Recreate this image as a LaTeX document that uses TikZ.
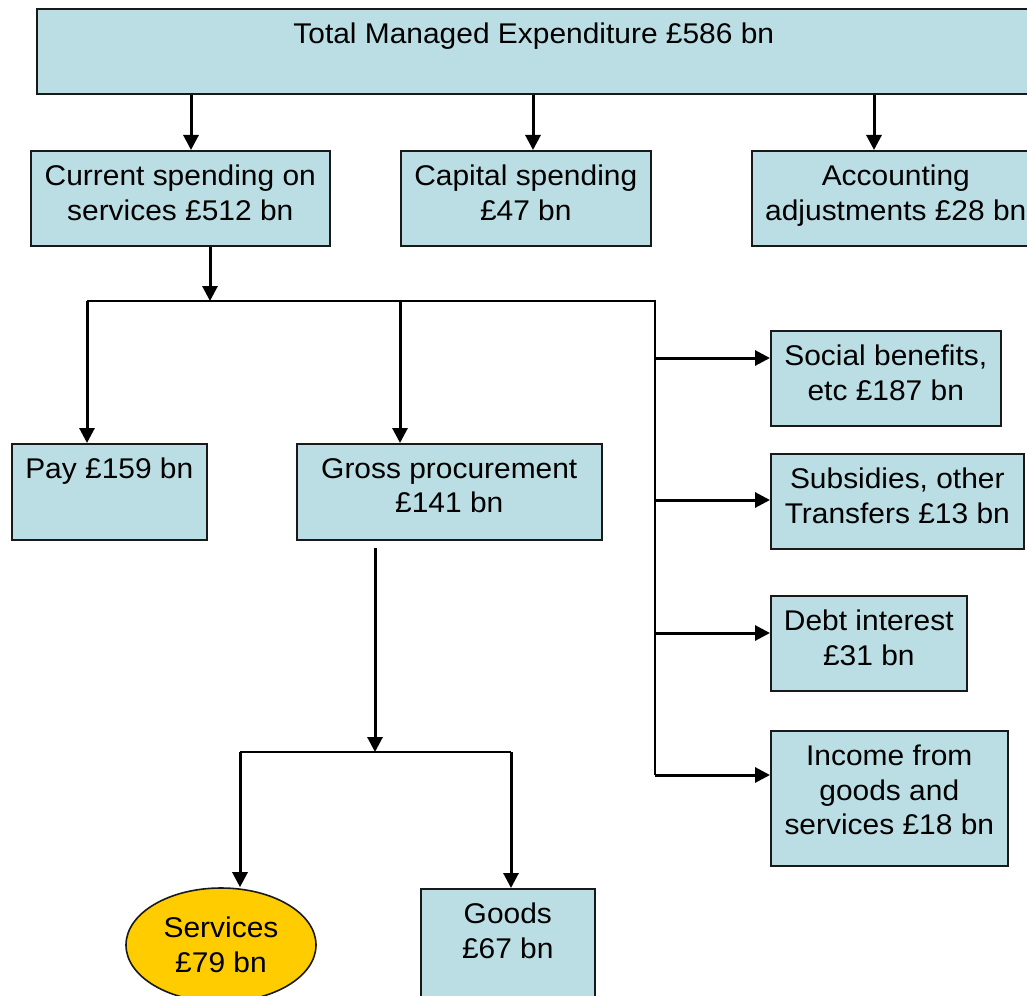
\documentclass[tikz,border=0pt]{standalone}
\usepackage{fontspec}
\setmainfont[FakeStretch=1.05]{Liberation Sans}
\usetikzlibrary{positioning, arrows.meta, shapes.geometric}
\definecolor{boxblue}{RGB}{186,222,228}
\definecolor{servgold}{RGB}{255,204,0}
\newcommand{\spendbox}[5]{\node[box] (#1) at (#2)
{\parbox[c][#4pt][t]{#3pt}{\centering\vspace*{14.5pt}#5}};}
\newcommand{\spendarrow}[3]{\draw [arrow, #3] (#1) -- (#2);}

\begin{document}
\begin{tikzpicture}[x=1pt, y=-1pt,
  box/.style={draw=black!90, line width=1.6pt, fill=boxblue, inner sep=0pt, anchor=north west, font=\fontsize{28.5}{34.5}\selectfont},
  arrow/.style={line width=3pt, -{Triangle[length=15pt, width=15pt]}},
  spine/.style={line width=1.5pt}]

\useasboundingbox (0,0) rectangle (1027,995);
\clip (0,0) rectangle (1027,995);

\spendbox{tme}{36,8}{994}{85}{Total Managed Expenditure £586 bn};
\spendbox{cur}{30,150}{299}{95}{Current spending on\\services £512 bn};
\spendbox{cap}{400,150}{250}{95}{Capital spending\\£47 bn};
\spendbox{acc}{751,150}{288}{95}{Accounting\\adjustments £28 bn};

\spendbox{pay}{11,443}{195}{96}{Pay £159 bn};
\spendbox{gross}{296,443}{305}{96}{Gross procurement\\£141 bn};

\spendbox{soc}{770,330}{230}{95}{Social benefits,\\etc £187 bn};
\spendbox{sub}{770,453}{253}{95}{Subsidies, other\\Transfers £13 bn};
\spendbox{debt}{770,595}{196}{95}{Debt interest\\£31 bn};
\spendbox{inc}{770,730}{237}{135}{Income from\\goods and\\services £18 bn};

\node[ellipse, draw=black!90, line width=1.6pt, fill=servgold, minimum width=190pt, minimum height=114pt, inner sep=0pt, align=center, font=\fontsize{28.5}{34.5}\selectfont] (serv) at (221,945) {Services\\£79 bn};
\spendbox{goods}{420,888}{174}{120}{Goods\\£67 bn};

% total split
\foreach \x/\b in {191/cur, 533/cap, 874/acc}{
  \coordinate (k) at (\x,0);
  \spendarrow{tme.south -| k}{\b.north -| k}{};
}

% current spending split
\coordinate (curjoin) at (210,301);
\coordinate (curleft) at (87,301);
\coordinate (curmid) at (400,301);
\coordinate (curright) at (655,301);
\coordinate (curend) at (655,775);
\draw[spine] (curleft) -- (curright) -- (curend);
\spendarrow{cur.south -| curjoin}{curjoin}{};
\spendarrow{curleft}{pay.north -| curleft}{};
\spendarrow{curmid}{gross.north -| curmid}{};
\foreach \y/\b in {358/soc, 500/sub, 633/debt, 775/inc}{
  \coordinate (k) at (655,\y);
  \spendarrow{k}{\b.west |- k}{};
}

% procurement split
\coordinate (grossout) at (375,548);
\coordinate (grossjoin) at (375,752);
\coordinate (grossleft) at (240,752);
\coordinate (grossright) at (511,752);
\draw[spine] (grossleft) -- (grossright);
\spendarrow{grossout}{grossjoin}{};
\spendarrow{grossleft}{serv.north -| grossleft}{};
\spendarrow{grossright}{goods.north -| grossright}{};
\end{tikzpicture}
\end{document}
